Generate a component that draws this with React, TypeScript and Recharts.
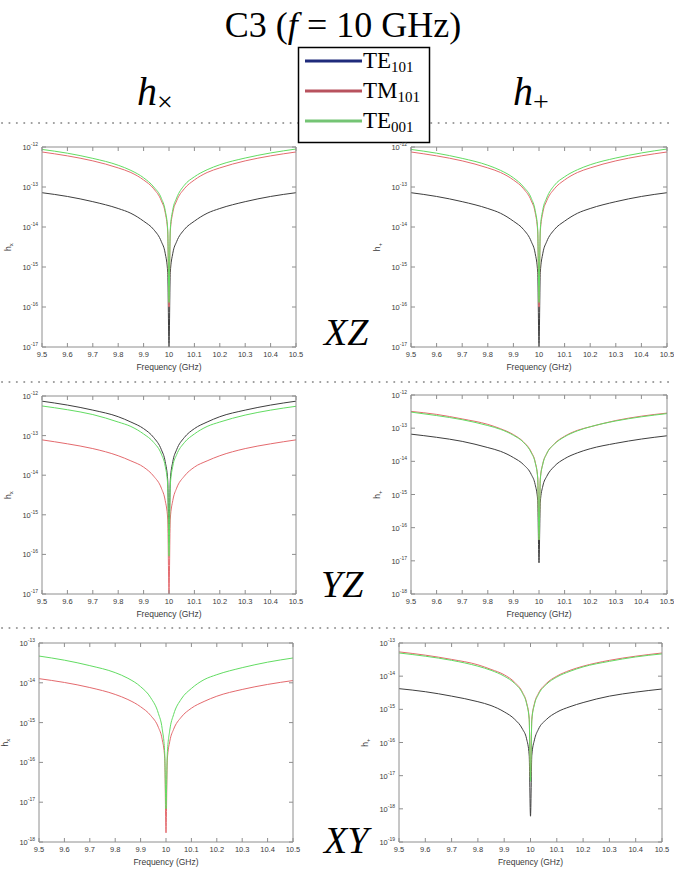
import React from 'react';
import { LineChart, Line, XAxis, YAxis } from 'recharts';

// ---------- shared data ----------
const freq = [9.5, 9.6, 9.7, 9.8, 9.85, 9.9, 9.94, 9.97, 9.985, 9.995, 10, 10.005, 10.015, 10.03, 10.06, 10.1, 10.15, 10.2, 10.3, 10.4, 10.5];
const freqTicks = [9.5, 9.6, 9.7, 9.8, 9.9, 10, 10.1, 10.2, 10.3, 10.4, 10.5];

const seriesNames = ['TE101', 'TM101', 'TE001'];
const legendColors = ['#1f2b7b', '#b8525e', '#74c474'];
const plotColors = ['#3e3e3e', '#e46a6e', '#62dc62'];

// XZ, h_x
const xzCrossTE101 = [7.2e-14, 5.8e-14, 4.3e-14, 2.9e-14, 2.2e-14, 1.4e-14, 8.6e-15, 4.3e-15, 2.2e-15, 7.2e-16, 1e-17, 7.2e-16, 2.2e-15, 4.3e-15, 8.6e-15, 1.4e-14, 2.2e-14, 2.9e-14, 4.3e-14, 5.8e-14, 7.2e-14];
const xzCrossTM101 = [7.5e-13, 6.0e-13, 4.5e-13, 3.0e-13, 2.3e-13, 1.5e-13, 9.0e-14, 4.5e-14, 2.3e-14, 7.5e-15, 1.0e-16, 7.5e-15, 2.3e-14, 4.5e-14, 9.0e-14, 1.5e-13, 2.3e-13, 3.0e-13, 4.5e-13, 6.0e-13, 7.5e-13];
const xzCrossTE001 = [8.7e-13, 7.0e-13, 5.2e-13, 3.5e-13, 2.6e-13, 1.7e-13, 1.0e-13, 5.2e-14, 2.6e-14, 8.7e-15, 1.3e-16, 8.9e-15, 2.7e-14, 5.3e-14, 1.1e-13, 1.8e-13, 2.7e-13, 3.6e-13, 5.3e-13, 7.1e-13, 8.9e-13];
// XZ, h_+
const xzPlusTE101 = [7.2e-14, 5.8e-14, 4.3e-14, 2.9e-14, 2.2e-14, 1.4e-14, 8.6e-15, 4.3e-15, 2.2e-15, 7.2e-16, 1e-17, 7.2e-16, 2.2e-15, 4.3e-15, 8.6e-15, 1.4e-14, 2.2e-14, 2.9e-14, 4.3e-14, 5.8e-14, 7.2e-14];
const xzPlusTM101 = [7.5e-13, 6.0e-13, 4.5e-13, 3.0e-13, 2.3e-13, 1.5e-13, 9.0e-14, 4.5e-14, 2.3e-14, 7.5e-15, 1.0e-16, 7.5e-15, 2.3e-14, 4.5e-14, 9.0e-14, 1.5e-13, 2.3e-13, 3.0e-13, 4.5e-13, 6.0e-13, 7.5e-13];
const xzPlusTE001 = [8.7e-13, 7.0e-13, 5.2e-13, 3.5e-13, 2.6e-13, 1.7e-13, 1.0e-13, 5.2e-14, 2.6e-14, 8.7e-15, 1.3e-16, 8.9e-15, 2.7e-14, 5.3e-14, 1.1e-13, 1.8e-13, 2.7e-13, 3.6e-13, 5.3e-13, 7.1e-13, 8.9e-13];
// YZ, h_x
const yzCrossTE101 = [7.4e-13, 5.9e-13, 4.4e-13, 3.0e-13, 2.2e-13, 1.5e-13, 8.9e-14, 4.4e-14, 2.2e-14, 7.4e-15, 2.0e-16, 7.4e-15, 2.2e-14, 4.4e-14, 8.9e-14, 1.5e-13, 2.2e-13, 3.0e-13, 4.4e-13, 5.9e-13, 7.4e-13];
const yzCrossTM101 = [7.8e-14, 6.2e-14, 4.7e-14, 3.1e-14, 2.3e-14, 1.6e-14, 9.4e-15, 4.7e-15, 2.3e-15, 7.8e-16, 1e-17, 7.8e-16, 2.3e-15, 4.7e-15, 9.4e-15, 1.6e-14, 2.3e-14, 3.1e-14, 4.7e-14, 6.2e-14, 7.8e-14];
const yzCrossTE001 = [5.6e-13, 4.5e-13, 3.4e-13, 2.2e-13, 1.7e-13, 1.1e-13, 6.7e-14, 3.4e-14, 1.7e-14, 5.6e-15, 9e-17, 5.5e-15, 1.7e-14, 3.3e-14, 6.6e-14, 1.1e-13, 1.7e-13, 2.2e-13, 3.3e-13, 4.4e-13, 5.5e-13];
// YZ, h_+
const yzPlusTE101 = [6.6e-14, 5.3e-14, 4.0e-14, 2.6e-14, 2.0e-14, 1.3e-14, 7.9e-15, 4.0e-15, 2.0e-15, 6.6e-16, 8.7e-18, 5.9e-16, 1.8e-15, 3.5e-15, 7.1e-15, 1.2e-14, 1.8e-14, 2.4e-14, 3.5e-14, 4.7e-14, 5.9e-14];
const yzPlusTM101 = [3.2e-13, 2.6e-13, 1.9e-13, 1.3e-13, 9.6e-14, 6.4e-14, 3.8e-14, 1.9e-14, 9.6e-15, 3.2e-15, 4.3e-17, 2.9e-15, 8.6e-15, 1.7e-14, 3.4e-14, 5.7e-14, 8.6e-14, 1.1e-13, 1.7e-13, 2.3e-13, 2.85e-13];
const yzPlusTE001 = [3.05e-13, 2.4e-13, 1.8e-13, 1.2e-13, 9.2e-14, 6.1e-14, 3.7e-14, 1.8e-14, 9.2e-15, 3.1e-15, 4.3e-17, 2.8e-15, 8.3e-15, 1.7e-14, 3.3e-14, 5.5e-14, 8.3e-14, 1.1e-13, 1.65e-13, 2.2e-13, 2.75e-13];
// XY, h_x
const xyCrossTM101 = [1.27e-14, 1.02e-14, 7.6e-15, 5.1e-15, 3.8e-15, 2.5e-15, 1.5e-15, 7.6e-16, 3.8e-16, 1.27e-16, 1.7e-18, 1.14e-16, 3.4e-16, 6.8e-16, 1.37e-15, 2.3e-15, 3.4e-15, 4.6e-15, 6.8e-15, 9.1e-15, 1.14e-14];
const xyCrossTE001 = [4.7e-14, 3.7e-14, 2.7e-14, 1.8e-14, 1.3e-14, 8.0e-15, 4.2e-15, 1.7e-15, 7.0e-16, 1.7e-16, 6.8e-18, 1.6e-16, 6.5e-16, 1.6e-15, 3.9e-15, 7.2e-15, 1.2e-14, 1.6e-14, 2.4e-14, 3.3e-14, 4.2e-14];
// XY, h_+
const xyPlusTE101 = [4.2e-15, 3.4e-15, 2.5e-15, 1.7e-15, 1.3e-15, 8.4e-16, 5.0e-16, 2.5e-16, 1.3e-16, 4.2e-17, 6e-19, 4.1e-17, 1.2e-16, 2.5e-16, 4.9e-16, 8.2e-16, 1.2e-15, 1.6e-15, 2.5e-15, 3.3e-15, 4.1e-15];
const xyPlusTM101 = [5.4e-14, 4.3e-14, 3.2e-14, 2.2e-14, 1.6e-14, 1.1e-14, 6.5e-15, 3.2e-15, 1.6e-15, 5.4e-16, 8e-18, 5.0e-16, 1.5e-15, 3.0e-15, 6.0e-15, 1.0e-14, 1.5e-14, 2.0e-14, 3.0e-14, 4.0e-14, 5.0e-14];
const xyPlusTE001 = [5.0e-14, 4.0e-14, 3.0e-14, 2.0e-14, 1.5e-14, 1.0e-14, 6.0e-15, 3.0e-15, 1.5e-15, 5.0e-16, 6.8e-18, 4.7e-16, 1.4e-15, 2.8e-15, 5.6e-15, 9.4e-15, 1.4e-14, 1.9e-14, 2.8e-14, 3.8e-14, 4.7e-14];

// y tick sets
const ticks17to12 = [1e-17, 1e-16, 1e-15, 1e-14, 1e-13, 1e-12];
const ticks18to12 = [1e-18, 1e-17, 1e-16, 1e-15, 1e-14, 1e-13, 1e-12];
const ticks18to13 = [1e-18, 1e-17, 1e-16, 1e-15, 1e-14, 1e-13];
const ticks19to13 = [1e-19, 1e-18, 1e-17, 1e-16, 1e-15, 1e-14, 1e-13];

const SANS = '"Liberation Sans", Arial, Helvetica, sans-serif';
const SERIF = '"Liberation Serif", "Times New Roman", serif';
const AXIS = '#8e8e8e';
const RM = 12; // right margin so the last tick label is not clipped

type S = { name: string; values: (number | undefined)[]; color: string };

function buildRows(series: S[]) {
  return freq.map((f, i) => {
    const row: Record<string, number | undefined> = { f };
    series.forEach((s) => {
      row[s.name] = s.values[i];
    });
    return row;
  });
}

const YTick = (props: any) => {
  const { x, y, payload } = props;
  const e = Math.round(Math.log10(payload.value));
  return (
    <text x={x} y={y + 3} textAnchor="end" fontSize={7.5} fill="#3a3a3a" fontFamily={SANS}>
      10<tspan dy={-4} fontSize={5}>{e}</tspan>
    </text>
  );
};

const XTick = (props: any) => {
  const { x, y, payload } = props;
  return (
    <text x={x} y={y} dy="0.71em" textAnchor="middle" fontSize={7.5} fill="#3a3a3a" fontFamily={SANS}>
      {payload.value}
    </text>
  );
};

const EmptyTick = () => <g />;

type PanelProps = {
  left: number;
  top: number;
  w: number;
  h: number;
  domain: [number, number];
  yTicks: number[];
  series: S[];
  sub: string;
};

function Panel({ left, top, w, h, domain, yTicks, series, sub }: PanelProps) {
  const data = buildRows(series);
  const yl = 44 - 31;
  const yc = 8 + h / 2;
  return (
    <div style={{ position: 'absolute', left: left - 44, top: top - 8 }}>
      <LineChart width={w + 45 + RM} height={h + 38} data={data} margin={{ top: 7, right: RM, left: 0, bottom: 0 }}>
        <XAxis
          xAxisId="b"
          dataKey="f"
          type="number"
          domain={[9.5, 10.5]}
          allowDataOverflow
          ticks={freqTicks}
          interval={0}
          tickSize={-4}
          tickMargin={9}
          tick={XTick}
          height={30}
          stroke={AXIS}
          label={() => (
            <text x={44 + w / 2} y={8 + h + 23} textAnchor="middle" fontSize={8.5} fill="#3a3a3a" fontFamily={SANS}>
              Frequency (GHz)
            </text>
          )}
        />
        <XAxis
          xAxisId="t"
          orientation="top"
          dataKey="f"
          type="number"
          domain={[9.5, 10.5]}
          allowDataOverflow
          ticks={freqTicks}
          interval={0}
          tickSize={-4}
          tick={EmptyTick}
          height={1}
          stroke={AXIS}
        />
        <YAxis
          yAxisId="l"
          type="number"
          scale="log"
          domain={domain}
          allowDataOverflow
          ticks={yTicks}
          interval={0}
          tickSize={-4}
          tickMargin={8}
          tick={YTick}
          width={44}
          stroke={AXIS}
          label={() => (
            <text
              x={yl}
              y={yc}
              transform={`rotate(-90, ${yl}, ${yc})`}
              textAnchor="middle"
              fontSize={8.5}
              fill="#3a3a3a"
              fontFamily={SANS}
            >
              h<tspan dy={2} fontSize={6}>{sub}</tspan>
            </text>
          )}
        />
        <YAxis
          yAxisId="r"
          orientation="right"
          type="number"
          scale="log"
          domain={domain}
          allowDataOverflow
          ticks={yTicks}
          interval={0}
          tickSize={-4}
          tick={EmptyTick}
          width={1}
          stroke={AXIS}
        />
        {series.map((s) => (
          <Line
            key={s.name}
            xAxisId="b"
            yAxisId="l"
            dataKey={s.name}
            type="monotone"
            stroke={s.color}
            strokeWidth={1}
            dot={false}
            activeDot={false}
            isAnimationActive={false}
          />
        ))}
        <Line
          xAxisId="t"
          yAxisId="r"
          dataKey={series[0].name}
          stroke="none"
          dot={false}
          activeDot={false}
          legendType="none"
          isAnimationActive={false}
        />
      </LineChart>
    </div>
  );
}

const mk = (vals: (number[] | null)[]): S[] =>
  vals
    .map((v, i) => (v ? { name: seriesNames[i], values: v, color: plotColors[i] } : null))
    .filter((s): s is S => s !== null);

function Dotted({ y, x1, x2 }: { y: number; x1: number; x2: number }) {
  return <line x1={x1} x2={x2} y1={y} y2={y} stroke="#9a9a9a" strokeWidth={2} strokeDasharray="0.1 7.3" strokeLinecap="round" />;
}

export default function App() {
  return (
    <div style={{ position: 'absolute', left: 0, top: 0, width: 674, height: 871, overflow: 'hidden', background: '#fff' }}>
      <svg width={674} height={871} style={{ position: 'absolute', left: 0, top: 0 }}>
        <text x={343} y={37} textAnchor="middle" fontSize={36} fontFamily={SERIF} fill="#000">
          C3 (<tspan fontStyle="italic">f</tspan> = 10 GHz)
        </text>
        <text x={137} y={105} fontSize={40} fontFamily={SERIF} fontStyle="italic" fill="#000">
          h<tspan fontStyle="normal" fontSize={28} dy={6}>×</tspan>
        </text>
        <text x={513} y={105} fontSize={40} fontFamily={SERIF} fontStyle="italic" fill="#000">
          h<tspan fontStyle="normal" fontSize={28} dy={6}>+</tspan>
        </text>
        <Dotted y={123} x1={2} x2={672} />
        <Dotted y={382} x1={2} x2={672} />
        <Dotted y={628} x1={2} x2={672} />
        <rect x={298.5} y={47.5} width={131} height={95} fill="#fff" stroke="#000" strokeWidth={1.5} />
        {seriesNames.map((n, i) => {
          const ly = 61 + i * 30;
          return (
            <g key={n}>
              <line x1={305} x2={362} y1={ly} y2={ly} stroke={legendColors[i]} strokeWidth={3} />
              <text x={363} y={ly + 7} fontSize={23} fontFamily={SERIF} fill="#000">
                {n.slice(0, 2)}
                <tspan fontSize={15} dy={4}>{n.slice(2)}</tspan>
              </text>
            </g>
          );
        })}
        <text x={324} y={345} fontSize={38} fontFamily={SERIF} fontStyle="italic" fill="#000">XZ</text>
        <text x={321} y={597} fontSize={38} fontFamily={SERIF} fontStyle="italic" fill="#000">YZ</text>
        <text x={324} y={853} fontSize={38} fontFamily={SERIF} fontStyle="italic" fill="#000">XY</text>
      </svg>

      <Panel left={42} top={147} w={254} h={200} domain={[1e-17, 1e-12]} yTicks={ticks17to12} sub="x"
        series={mk([xzCrossTE101, xzCrossTM101, xzCrossTE001])} />
      <Panel left={411} top={147} w={256} h={200} domain={[1e-17, 1e-12]} yTicks={ticks17to12} sub="+"
        series={mk([xzPlusTE101, xzPlusTM101, xzPlusTE001])} />
      <Panel left={42} top={396} w={254} h={198} domain={[1e-17, 1e-12]} yTicks={ticks17to12} sub="x"
        series={mk([yzCrossTE101, yzCrossTM101, yzCrossTE001])} />
      <Panel left={411} top={395} w={256} h={199} domain={[1e-18, 1e-12]} yTicks={ticks18to12} sub="+"
        series={mk([yzPlusTE101, yzPlusTM101, yzPlusTE001])} />
      <Panel left={39} top={643} w={254} h={199} domain={[1e-18, 1e-13]} yTicks={ticks18to13} sub="x"
        series={mk([null, xyCrossTM101, xyCrossTE001])} />
      <Panel left={399} top={643} w={263} h={199} domain={[1e-19, 1e-13]} yTicks={ticks19to13} sub="+"
        series={mk([xyPlusTE101, xyPlusTM101, xyPlusTE001])} />
    </div>
  );
}
